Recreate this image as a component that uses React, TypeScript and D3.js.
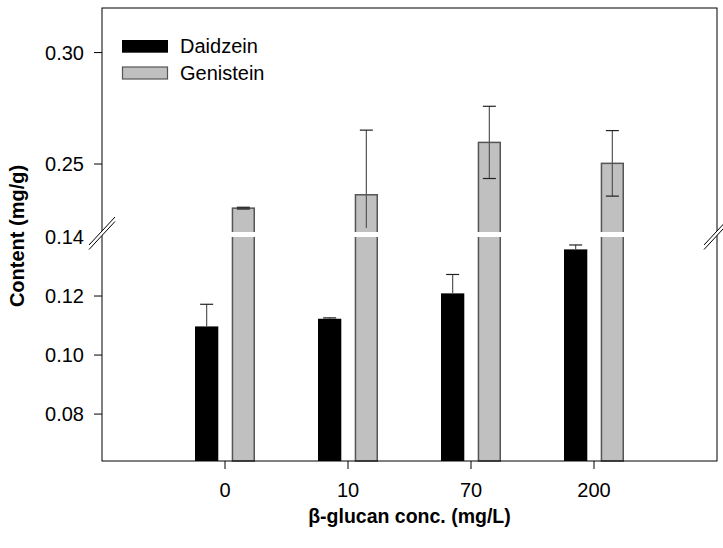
import React from "react";
import * as d3 from "d3";

const categories = ["0", "10", "70", "200"];
const daidzein = [0.1097, 0.1123, 0.1209, 0.1358];
const daidzeinErr = [0.0075, 0.0003, 0.0064, 0.0015];
const genistein = [0.2302, 0.2362, 0.2597, 0.2503];
const genisteinErr = [0.0004, 0.029, 0.0162, 0.0147];
const lowTicks = [0.08, 0.1, 0.12, 0.14];
const highTicks = [0.25, 0.3];
const seriesNames = ["Daidzein", "Genistein"];

const W = 723;
const H = 548;
const left = 102;
const right = 717;
const top = 8;
const bottom = 461;
const breakLowY = 237;
const breakHighY = 232;
const LOW_MAX = 0.14;
const HIGH_MIN = 0.2195;

const x = d3.scaleLinear().domain([0, 5]).range([left, right]);
const yLow = d3.scaleLinear().domain([0.0641, LOW_MAX]).range([bottom, breakLowY]);
const yHigh = d3.scaleLinear().domain([HIGH_MIN, 0.32]).range([breakHighY, top]);

function yv(v: number): number {
  if (v <= LOW_MAX) return yLow(v);
  if (v >= HIGH_MIN) return yHigh(v);
  return (breakLowY + breakHighY) / 2;
}

const FONT = "Liberation Sans, Arial, sans-serif";
const barW = 23.3;
const off = 18.35;
const capW = 13;

function BreakMark({ cx, cy }: { cx: number; cy: number }) {
  const a1 = [cx - 13, cy + 12];
  const a2 = [cx + 13, cy - 16];
  const d = 4.5;
  return (
    <g>
      <polygon
        points={`${a1[0]},${a1[1]} ${a2[0]},${a2[1]} ${a2[0]},${a2[1] + d} ${a1[0]},${a1[1] + d}`}
        fill="#fff"
      />
      <line x1={a1[0]} y1={a1[1]} x2={a2[0]} y2={a2[1]} stroke="#000" strokeWidth={1} />
      <line x1={a1[0]} y1={a1[1] + d} x2={a2[0]} y2={a2[1] + d} stroke="#000" strokeWidth={1} />
    </g>
  );
}

export default function App() {
  return (
    <svg width={W} height={H} style={{ position: "absolute", left: 0, top: 0, background: "#fff" }}>
      <rect x={0} y={0} width={W} height={H} fill="#fff" />
      {categories.map((c, i) => {
        const cx = x(i + 1);
        const dTop = yv(daidzein[i]);
        const gTop = yv(genistein[i]);
        const dErrTop = yv(daidzein[i] + daidzeinErr[i]);
        const gErrTop = yv(genistein[i] + genisteinErr[i]);
        const lowVal = genistein[i] - genisteinErr[i];
        const clipped = lowVal < HIGH_MIN;
        const gErrBot = clipped ? breakHighY - 4 : yv(lowVal);
        const gx = cx + off;
        const dx = cx - off;
        return (
          <g key={c}>
            <rect x={dx - barW / 2} y={dTop} width={barW} height={bottom - dTop} fill="#000" />
            <line x1={dx} x2={dx} y1={dErrTop} y2={dTop} stroke="#555" strokeWidth={1.2} />
            <line x1={dx - capW / 2} x2={dx + capW / 2} y1={dErrTop} y2={dErrTop} stroke="#222" strokeWidth={1.2} />
            <rect
              x={gx - barW / 2 + 0.75}
              y={gTop}
              width={barW - 1.5}
              height={bottom - gTop}
              fill="#c0c0c0"
              stroke="#555"
              strokeWidth={1.5}
            />
            <rect x={gx - barW / 2 - 1} y={breakHighY} width={barW + 2} height={breakLowY - breakHighY} fill="#fff" />
            <line x1={gx} x2={gx} y1={gErrTop} y2={gErrBot} stroke="#555" strokeWidth={1.2} />
            <line x1={gx - capW / 2} x2={gx + capW / 2} y1={gErrTop} y2={gErrTop} stroke="#222" strokeWidth={1.2} />
            {!clipped && (
              <line x1={gx - capW / 2} x2={gx + capW / 2} y1={gErrBot} y2={gErrBot} stroke="#222" strokeWidth={1.2} />
            )}
          </g>
        );
      })}
      <rect x={left} y={top} width={right - left} height={bottom - top} fill="none" stroke="#000" strokeWidth={1} />
      {lowTicks.map((t) => (
        <g key={"l" + t}>
          {t < LOW_MAX && <line x1={left - 8} x2={left} y1={yLow(t)} y2={yLow(t)} stroke="#000" strokeWidth={1} />}
          <text x={84} y={yLow(t)} dy="0.36em" textAnchor="end" fontFamily={FONT} fontSize={20} fill="#000">
            {t.toFixed(2)}
          </text>
        </g>
      ))}
      {highTicks.map((t) => (
        <g key={"h" + t}>
          <line x1={left - 8} x2={left} y1={yHigh(t)} y2={yHigh(t)} stroke="#000" strokeWidth={1} />
          <text x={84} y={yHigh(t)} dy="0.36em" textAnchor="end" fontFamily={FONT} fontSize={20} fill="#000">
            {t.toFixed(2)}
          </text>
        </g>
      ))}
      {categories.map((c, i) => (
        <g key={"x" + c}>
          <line x1={x(i + 1)} x2={x(i + 1)} y1={bottom} y2={bottom + 8} stroke="#000" strokeWidth={1} />
          <text x={x(i + 1)} y={497} textAnchor="middle" fontFamily={FONT} fontSize={20} fill="#000">
            {c}
          </text>
        </g>
      ))}
      <BreakMark cx={left} cy={233} />
      <BreakMark cx={right} cy={233} />
      <text x={(left + right) / 2} y={523} textAnchor="middle" fontFamily={FONT} fontSize={19.5} fontWeight="bold" fill="#000">
        β-glucan conc. (mg/L)
      </text>
      <text
        transform={`translate(24, 236) rotate(-90)`}
        textAnchor="middle"
        fontFamily={FONT}
        fontSize={20}
        fontWeight="bold"
        fill="#000"
      >
        Content (mg/g)
      </text>
      <rect x={122} y={40} width={46} height={12.7} fill="#000" />
      <text x={180} y={53} fontFamily={FONT} fontSize={20} fill="#000">{seriesNames[0]}</text>
      <rect x={122.5} y={67} width={45} height={12} fill="#c0c0c0" stroke="#555" strokeWidth={1.2} />
      <text x={180} y={79.5} fontFamily={FONT} fontSize={20} fill="#000">{seriesNames[1]}</text>
    </svg>
  );
}
